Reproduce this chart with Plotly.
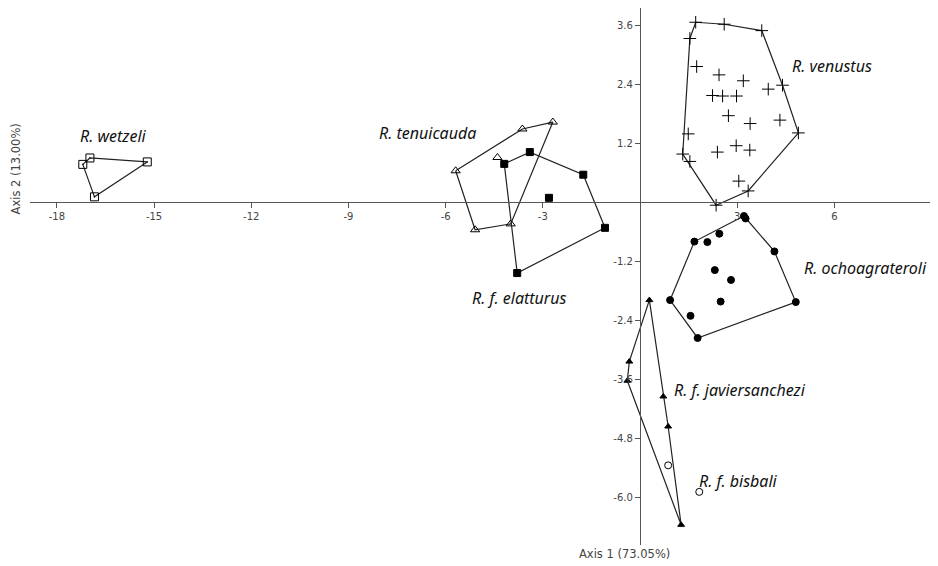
import plotly.graph_objects as go

# species scores on axis 1 / axis 2
wetzeli_x = [-17.20, -16.98, -15.21, -16.84]
wetzeli_y = [0.77, 0.90, 0.82, 0.11]

tenuicauda_x = [-5.69, -3.63, -2.69, -4.40, -3.99, -5.09]
tenuicauda_y = [0.64, 1.49, 1.63, 0.91, -0.44, -0.56]

elatturus_x = [-4.19, -3.40, -1.75, -1.08, -3.79, -2.81]
elatturus_y = [0.78, 1.02, 0.56, -0.52, -1.44, 0.09]

venustus_x = [1.72, 2.60, 3.76, 1.54, 1.75, 2.44, 3.19, 2.24, 2.55, 2.98, 3.96, 4.40,
              2.73, 3.40, 4.32, 4.89, 1.49, 1.32, 1.54, 2.39, 2.97, 3.39, 3.05, 3.34, 2.35]
venustus_y = [3.66, 3.62, 3.49, 3.33, 2.76, 2.59, 2.47, 2.17, 2.16, 2.16, 2.30, 2.38,
              1.76, 1.60, 1.67, 1.41, 1.39, 0.98, 0.83, 1.02, 1.15, 1.06, 0.43, 0.23, -0.06]

ochoagrateroli_x = [3.21, 3.26, 1.68, 2.08, 2.45, 4.15, 2.31, 2.81, 0.93, 2.49, 1.56, 1.78, 4.81]
ochoagrateroli_y = [-0.28, -0.33, -0.80, -0.81, -0.64, -1.00, -1.38, -1.58, -1.99, -2.02, -2.31, -2.76, -2.03]

javiersanchezi_x = [0.29, -0.33, -0.39, 0.72, 0.87, 1.27]
javiersanchezi_y = [-1.99, -3.24, -3.63, -3.95, -4.56, -6.56]

bisbali_x = [0.87, 1.83]
bisbali_y = [-5.35, -5.89]

x_ticks = [-18, -15, -12, -9, -6, -3, 3, 6]
y_ticks = [-6.0, -4.8, -3.6, -2.4, -1.2, 1.2, 2.4, 3.6]

x_range = [-18.83, 9.20]
y_range = [-6.97, 3.95]


def convex_hull(xs, ys):
    pts = sorted(set(zip(xs, ys)))
    if len(pts) < 3:
        return pts

    def cross(o, a, b):
        return (a[0] - o[0]) * (b[1] - o[1]) - (a[1] - o[1]) * (b[0] - o[0])

    lower, upper = [], []
    for p in pts:
        while len(lower) >= 2 and cross(lower[-2], lower[-1], p) <= 0:
            lower.pop()
        lower.append(p)
    for p in reversed(pts):
        while len(upper) >= 2 and cross(upper[-2], upper[-1], p) <= 0:
            upper.pop()
        upper.append(p)
    hull = lower[:-1] + upper[:-1]
    return hull + [hull[0]]


def add_group(fig, xs, ys, symbol, size, hull=True):
    if hull:
        h = convex_hull(xs, ys)
        fig.add_trace(go.Scatter(
            x=[p[0] for p in h], y=[p[1] for p in h],
            mode='lines', line=dict(color='#222', width=1.2),
            hoverinfo='skip'))
    fig.add_trace(go.Scatter(
        x=xs, y=ys, mode='markers',
        marker=dict(symbol=symbol, size=size, color='black',
                    line=dict(color='black', width=1)),
        hovertemplate='%{x:.2f}, %{y:.2f}<extra></extra>'))
    return fig


fig = go.Figure()
fig = add_group(fig, wetzeli_x, wetzeli_y, 'square-open-dot', 8)
fig = add_group(fig, tenuicauda_x, tenuicauda_y, 'triangle-up-open', 8)
fig = add_group(fig, elatturus_x, elatturus_y, 'square', 7)
fig = add_group(fig, venustus_x, venustus_y, 'cross-thin', 9)
fig = add_group(fig, ochoagrateroli_x, ochoagrateroli_y, 'circle', 7)
fig = add_group(fig, javiersanchezi_x, javiersanchezi_y, 'triangle-up', 6)
fig = add_group(fig, bisbali_x, bisbali_y, 'circle-open', 7, hull=False)

# species names (left edge, vertical centre)
labels = [
    ('R. wetzeli', -17.35, 1.35),
    ('R. tenuicauda', -8.12, 1.41),
    ('R. f. elatturus', -5.25, -1.95),
    ('R. venustus', 4.63, 2.77),
    ('R. ochoagrateroli', 5.00, -1.34),
    ('R. f. javiersanchezi', 0.99, -3.81),
    ('R. f. bisbali', 1.76, -5.67),
]
for text, lx, ly in labels:
    fig.add_annotation(x=lx, y=ly, text=text, showarrow=False, xanchor='left',
                       font=dict(family='Noto Sans', size=16, color='#111', style='italic'))

# axis titles
fig.add_annotation(xref='paper', yref='paper', x=0.6542, y=-0.017, text='Axis 1 (73.05%)',
                   showarrow=False, yanchor='middle',
                   font=dict(family='DejaVu Sans', size=11.5, color='#444'))
fig.add_annotation(xref='paper', yref='paper', x=-0.0150, y=0.70, text='Axis 2 (13.00%)',
                   showarrow=False, textangle=-90, xanchor='center', yanchor='middle',
                   font=dict(family='DejaVu Sans', size=11.5, color='#444'))

# axes cross at the origin, as in PAST
x_pos = (0 - x_range[0]) / (x_range[1] - x_range[0])
y_pos = (0 - y_range[0]) / (y_range[1] - y_range[0])

fig.update_xaxes(range=x_range, anchor='free', position=y_pos,
                 tickvals=x_ticks, ticktext=[f'{v}' for v in x_ticks],
                 ticks='outside', ticklen=5, tickcolor='#555',
                 showline=True, linecolor='#555', linewidth=1.2,
                 showgrid=False, zeroline=False,
                 tickfont=dict(family='DejaVu Sans', size=10, color='#444'))
fig.update_yaxes(range=y_range, anchor='free', position=x_pos,
                 tickvals=y_ticks, ticktext=[f'{v:.1f}' for v in y_ticks],
                 ticks='outside', ticklen=5, tickcolor='#555',
                 showline=True, linecolor='#555', linewidth=1.2,
                 showgrid=False, zeroline=False,
                 tickfont=dict(family='DejaVu Sans', size=10, color='#444'))

# page body adds an 8px margin, so the figure is 8px smaller on each axis
fig.update_layout(
    width=930, height=558,
    margin=dict(l=22, r=0, t=0, b=21),
    plot_bgcolor='white',
    paper_bgcolor='white',
    showlegend=False,
)

fig.write_html("out.html")
